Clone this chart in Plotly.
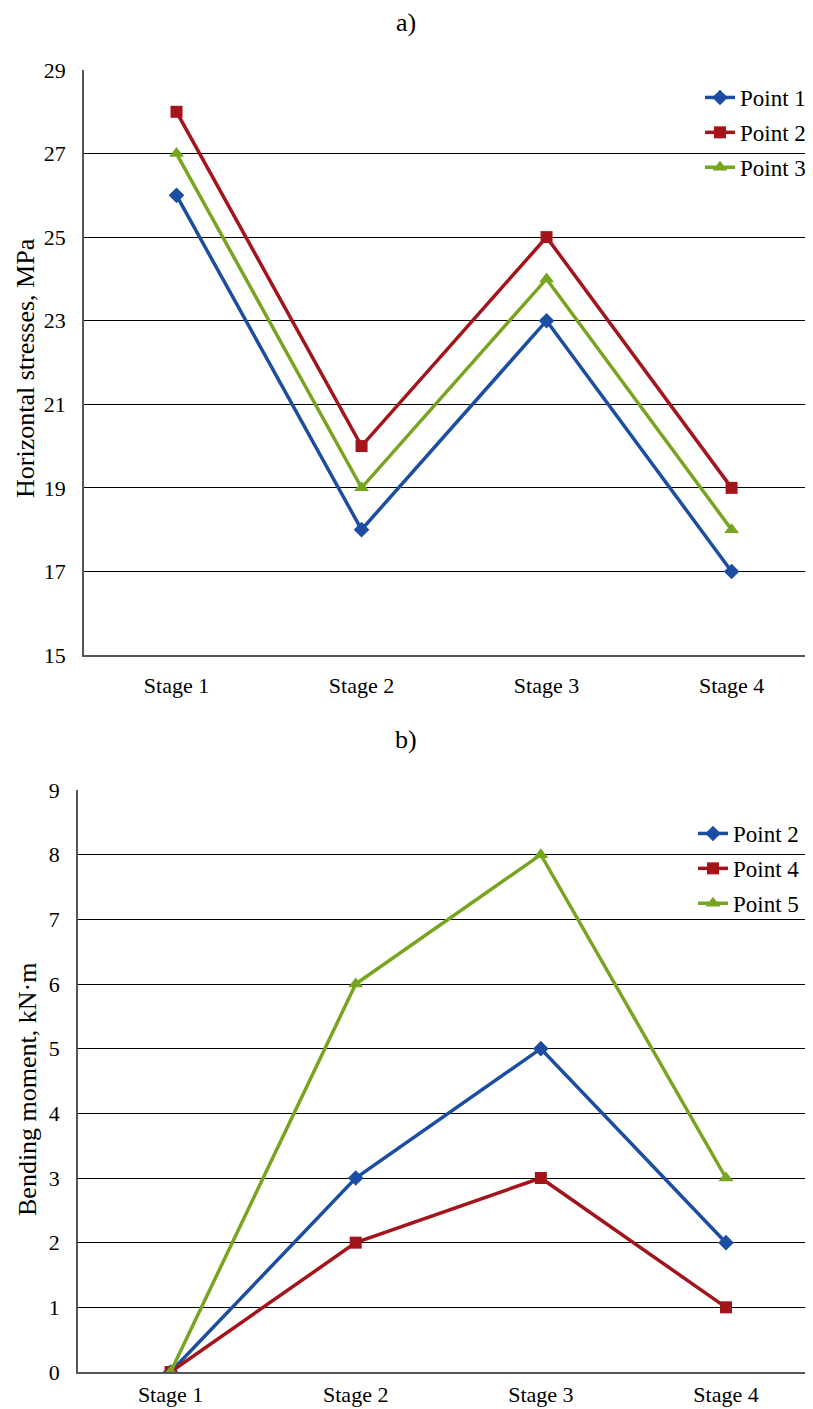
import plotly.graph_objects as go

stages = ["Stage 1", "Stage 2", "Stage 3", "Stage 4"]

a_names = ["Point 1", "Point 2", "Point 3"]
a_point1 = [26, 18, 23, 17]
a_point2 = [28, 20, 25, 19]
a_point3 = [27, 19, 24, 18]

b_names = ["Point 2", "Point 4", "Point 5"]
b_point2 = [0, 3, 5, 2]
b_point4 = [0, 2, 3, 1]
b_point5 = [0, 6, 8, 3]

a_ticks = [15, 17, 19, 21, 23, 25, 27, 29]
b_ticks = [0, 1, 2, 3, 4, 5, 6, 7, 8, 9]

colors = ["#1B4EA2", "#A3141B", "#78A51F"]
symbols = ["diamond", "square", "triangle-up"]
msizes = [12, 12, 13]

FONT = "Liberation Serif"
PAGE_W, PAGE_H = 813, 1409
OFF = 8  # page body margin
W, H = PAGE_W - OFF, PAGE_H - OFF


def px(x):
    return (x - OFF) / W


def py(y):
    return (H - (y - OFF)) / H


fig = go.Figure()

for i, (name, vals) in enumerate(zip(a_names, [a_point1, a_point2, a_point3])):
    fig.add_trace(go.Scatter(
        x=stages, y=vals, name=name, mode="lines+markers",
        line=dict(color=colors[i], width=3.5),
        marker=dict(symbol=symbols[i], size=msizes[i], color=colors[i]),
        xaxis="x", yaxis="y", legend="legend", legendgroup="a%d" % i,
    ))

for i, (name, vals) in enumerate(zip(b_names, [b_point2, b_point4, b_point5])):
    fig.add_trace(go.Scatter(
        x=stages, y=vals, name=name, mode="lines+markers",
        line=dict(color=colors[i], width=3.5),
        marker=dict(symbol=symbols[i], size=msizes[i], color=colors[i]),
        xaxis="x2", yaxis="y2", legend="legend2", legendgroup="b%d" % i,
    ))

axis_common = dict(
    showline=True, linecolor="#555555", linewidth=1.5,
    ticks="", tickfont=dict(family=FONT, size=22, color="black"),
)

legend_common = dict(
    xanchor="left", yanchor="top", bgcolor="rgba(0,0,0,0)",
    font=dict(family=FONT, size=23, color="black"), tracegroupgap=2,
    itemwidth=30,
)

fig.update_layout(
    width=W, height=H,
    margin=dict(l=0, r=0, t=0, b=0, autoexpand=False),
    paper_bgcolor="white", plot_bgcolor="white",
    font=dict(family=FONT, color="black"),
    showlegend=True,
    xaxis=dict(domain=[px(84), 1.0], anchor="y", type="category",
               range=[-0.5, 3.44], ticklabelstandoff=10, **axis_common),
    yaxis=dict(domain=[py(655), py(70)], anchor="x", range=[15, 29],
               tickvals=a_ticks, showgrid=True, gridcolor="black", gridwidth=1,
               ticklabelstandoff=12, zeroline=False, **axis_common),
    xaxis2=dict(domain=[px(78), 1.0], anchor="y2", type="category",
                range=[-0.5, 3.47], ticklabelstandoff=2, **axis_common),
    yaxis2=dict(domain=[py(1372), py(790)], anchor="x2", range=[0, 9],
                tickvals=b_ticks, showgrid=True, gridcolor="black", gridwidth=1,
                ticklabelstandoff=12, zeroline=False, **axis_common),
    legend=dict(x=px(700), y=py(76), **legend_common),
    legend2=dict(x=px(693), y=py(812), **legend_common),
    annotations=[
        dict(text="a)", x=px(406), y=py(22), xref="paper", yref="paper",
             xanchor="center", yanchor="middle",
             showarrow=False, font=dict(family=FONT, size=26)),
        dict(text="b)", x=px(406), y=py(740), xref="paper", yref="paper",
             xanchor="center", yanchor="middle",
             showarrow=False, font=dict(family=FONT, size=26)),
        dict(text="Horizontal stresses, MPa", x=px(25), y=py(368),
             xref="paper", yref="paper", showarrow=False, textangle=-90,
             xanchor="center", yanchor="middle",
             font=dict(family=FONT, size=26)),
        dict(text="Bending moment, kN·m", x=px(27), y=py(1090),
             xref="paper", yref="paper", showarrow=False, textangle=-90,
             xanchor="center", yanchor="middle",
             font=dict(family=FONT, size=26)),
    ],
)

fig.write_html("out.html")
